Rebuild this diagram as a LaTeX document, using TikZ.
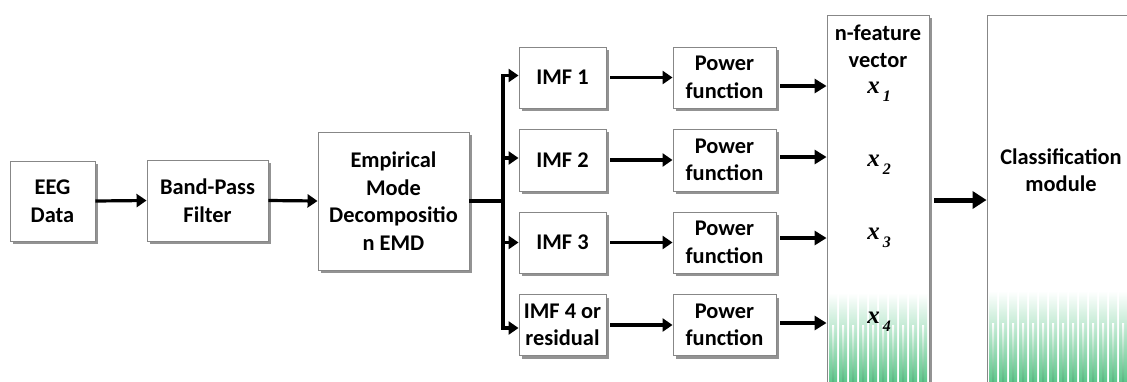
\documentclass[tikz,border=0pt]{standalone}
\usepackage{fontspec}
\setmainfont{Carlito}
\newfontfamily\timesf{Liberation Serif}
\usetikzlibrary{arrows.meta,shadows}
\definecolor{grn}{RGB}{95,200,140}
\definecolor{bordergray}{RGB}{135,135,135}
\tikzset{
 blk/.style={draw=bordergray, line width=0.9pt, fill=white, align=center, inner sep=0pt,
   font=\bfseries\fontsize{22.4}{27.5}\selectfont,
   drop shadow={shadow xshift=3pt, shadow yshift=-3pt, fill=black!60, opacity=0.7}},
 lbl/.style={align=center, inner sep=0pt, font=\bfseries\fontsize{22.4}{27.5}\selectfont},
 arr/.style={line width=3.2pt, -{Triangle[length=10pt,width=13pt]}},
 bus/.style={line width=3.2pt},
 farr/.style={line width=4pt, -{Triangle[length=12pt,width=14pt]}},
 bigarr/.style={line width=5pt, -{Triangle[length=14pt,width=17pt]}},
 xlab/.style={inner sep=0pt},
}
\newcommand{\xv}[1]{{\timesf\bfseries\itshape\fontsize{25}{25}\selectfont x}\hspace{3pt}\raisebox{-8pt}{\timesf\bfseries\itshape\fontsize{16}{16}\selectfont #1}}
\begin{document}
\begin{tikzpicture}[x=1pt,y=-1pt]
\useasboundingbox (0,0) rectangle (1127,381);
\clip (0,0) rectangle (1127,381);
\fill[white] (0,0) rectangle (1127,381);

% main chain
\node[blk, minimum width=85pt, minimum height=80pt] (eeg) at (52.5,201) {EEG\\Data};
\node[blk, minimum width=121pt, minimum height=81pt] (bpf) at (207.5,200.5) {Band-Pass\\Filter};
\node[blk, minimum width=151pt, minimum height=138pt] (emd) at (393.5,201) {Empirical\\Mode\\Decompositio\\n EMD};

% IMF boxes
\node[blk, minimum width=87pt, minimum height=61pt] (imf1) at (562.5,77.5) {IMF 1};
\node[blk, minimum width=87pt, minimum height=62pt] (imf2) at (562.5,160) {IMF 2};
\node[blk, minimum width=87pt, minimum height=61pt] (imf3) at (562.5,242.5) {IMF 3};
\node[blk, minimum width=87pt, minimum height=61pt] (imf4) at (562.5,325) {IMF 4 or\\residual};

% power function boxes
\node[blk, minimum width=103pt, minimum height=61pt] (pf1) at (724.5,77.5) {Power\\function};
\node[blk, minimum width=103pt, minimum height=62pt] (pf2) at (724.5,160) {Power\\function};
\node[blk, minimum width=103pt, minimum height=61pt] (pf3) at (724.5,242.5) {Power\\function};
\node[blk, minimum width=103pt, minimum height=61pt] (pf4) at (724.5,325) {Power\\function};

% feature vector and classification boxes
\node[blk, minimum width=102pt, minimum height=385pt] (vec) at (878,207.5) {};
\node[blk, minimum width=160pt, minimum height=385pt] (cls) at (1067,207.5) {};

% green striped fades
\foreach \x in {828,838,...,918} {
  \shade[top color=white, bottom color=grn] (\x+1,293) rectangle (\x+9.2,382);
  \shade[top color=white, bottom color=grn!90!black] (\x+4,325) rectangle (\x+6.2,382);
}
\foreach \x in {988,998,...,1118} {
  \shade[top color=white, bottom color=grn] (\x+1,291) rectangle (\x+9.2,382);
  \shade[top color=white, bottom color=grn!90!black] (\x+4,323) rectangle (\x+6.2,382);
}

% labels
\node[lbl] (nfv) at (878,46.5) {n-feature\\vector};
\node[xlab] (x1) at (879,92) {\xv{1}};
\node[xlab] (x2) at (879,165) {\xv{2}};
\node[xlab] (x3) at (879,238) {\xv{3}};
\node[xlab] (x4) at (879,322) {\xv{4}};
\node[lbl] (clab) at (1061,170) {Classification\\module};

% connectors
\draw[arr] (eeg.east) -- (bpf.west);
\draw[arr] (bpf.east) -- (emd.west);
\coordinate (br) at (503,201);
\draw[bus] (emd.east) -- (br);
\draw[arr] (br) |- ([yshift=2pt]imf1.west);
\draw[arr] (br) |- ([yshift=2pt]imf2.west);
\draw[arr] (br) |- (imf3.west);
\draw[arr] (br) |- ([yshift=-3pt]imf4.west);

\draw[arr, shorten <=4pt] (imf1.east) -- (pf1.west);
\draw[arr, shorten <=4pt] (imf2.east) -- (pf2.west);
\draw[arr, shorten <=4pt] (imf3.east) -- (pf3.west);
\draw[arr, shorten <=4pt] (imf4.east) -- (pf4.west);

\draw[farr, shorten <=4pt] ([yshift=-8.5pt]pf1.east) -- ([yshift=-8.5pt]pf1.east -| vec.west);
\draw[farr, shorten <=4pt] ([yshift=3pt]pf2.east) -- ([yshift=3pt]pf2.east -| vec.west);
\draw[farr, shorten <=4pt] ([yshift=4.5pt]pf3.east) -- ([yshift=4.5pt]pf3.east -| vec.west);
\draw[farr, shorten <=4pt] ([yshift=2pt]pf4.east) -- ([yshift=2pt]pf4.east -| vec.west);

\draw[bigarr, shorten <=5pt] ([yshift=7.5pt]vec.east) -- ([yshift=7.5pt]vec.east -| cls.west);
\end{tikzpicture}
\end{document}
